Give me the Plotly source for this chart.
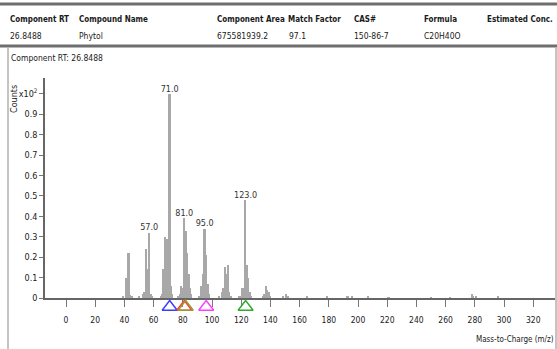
import plotly.graph_objects as go

# ---- data ----
mz = [39, 41, 42, 43, 44, 45, 50, 53, 54, 55, 56, 57, 58, 59, 65, 66, 67, 68, 69, 70,
      71, 72, 73, 77, 78, 79, 80, 81, 82, 83, 84, 85, 86, 91, 93, 94, 95, 96, 97, 98,
      105, 107, 108, 109, 110, 111, 112, 113, 119, 121, 122, 123, 124, 125, 126, 127,
      135, 136, 137, 138, 139, 140, 149, 151, 152, 165, 179, 193, 196, 207, 221, 250,
      263, 278, 279, 281, 296]
counts = [0.01, 0.10, 0.02, 0.22, 0.015, 0.01, 0.005, 0.02, 0.03, 0.24, 0.14, 0.32, 0.02, 0.005,
          0.01, 0.02, 0.14, 0.30, 0.29, 0.15, 1.00, 0.06, 0.02, 0.01, 0.02, 0.06, 0.05, 0.39,
          0.33, 0.22, 0.12, 0.05, 0.02, 0.01, 0.06, 0.12, 0.34, 0.21, 0.07, 0.02, 0.01, 0.03,
          0.05, 0.15, 0.12, 0.16, 0.03, 0.01, 0.01, 0.05, 0.05, 0.48, 0.16, 0.10, 0.03, 0.01,
          0.01, 0.02, 0.06, 0.04, 0.03, 0.01, 0.01, 0.02, 0.01, 0.01, 0.01, 0.007, 0.006,
          0.005, 0.004, 0.004, 0.004, 0.02, 0.01, 0.005, 0.005]

label_mz = [57, 71, 81, 95, 123]
label_text = ["57.0", "71.0", "81.0", "95.0", "123.0"]
label_counts = [counts[mz.index(m)] for m in label_mz]

marker_mz = [71, 81, 82, 96, 123]
marker_colors = ["#3b3bff", "#ff3b3b", "#9a9a30", "#ff3bff", "#2fa82f"]
marker_level = [0.5] * len(marker_mz)

x_ticks = list(range(0, 321, 20))
y_ticks = [0, 0.1, 0.2, 0.3, 0.4, 0.5, 0.6, 0.7, 0.8, 0.9, 1.0]
y_ticktext = ["0", "0.1", "0.2", "0.3", "0.4", "0.5", "0.6", "0.7", "0.8", "0.9", "x10<sup>2</sup>"]

header_cols = ["Component RT", "Compound Name", "Component Area", "Match Factor", "CAS#", "Formula", "Estimated Conc."]
header_vals = ["26.8488", "Phytol", "675581939.2", "97.1", "150-86-7", "C20H40O", ""]
header_x = [8, 77, 215, 286, 352, 422, 490]
val_x = [8, 77, 215, 287, 352, 422, 490]

FONT = "DejaVu Sans Condensed, Liberation Sans Narrow, sans-serif"
W, H = 557, 349
L, R, T, B = 45, 0, 78, 33
AXIS_Y = 298
PW, PH = W - L - R, H - T - B
Y_SPLIT = (H - B - AXIS_Y) / PH


def px(x):
    return (x - L) / PW


def py(y):
    return (H - B - y) / PH


fig = go.Figure()
fig.add_trace(go.Bar(x=mz, y=counts, width=1.2,
                     marker=dict(color="#a8a8a8", line=dict(width=0)),
                     hoverinfo="x+y", xaxis="x", yaxis="y"))
fig.add_trace(go.Scatter(x=label_mz, y=label_counts, mode="text", text=label_text,
                         textposition="top center",
                         textfont=dict(family=FONT, size=9, color="#333333"),
                         cliponaxis=False, xaxis="x", yaxis="y"))
fig.add_trace(go.Scatter(x=marker_mz, y=marker_level, mode="markers",
                         marker=dict(symbol="triangle-up-open", size=13,
                                     color=marker_colors, line=dict(width=1.4, color=marker_colors)),
                         cliponaxis=False, xaxis="x", yaxis="y2"))

ann = []
for i, (t, xp) in enumerate(zip(header_cols, header_x)):
    last = i == len(header_cols) - 1
    ann.append(dict(text="<b>" + t + "</b>", x=px(555 if last else xp), y=py(19),
                    xref="paper", yref="paper",
                    xanchor="right" if last else "left", yanchor="middle", showarrow=False,
                    font=dict(family=FONT, size=8, color="#1a1a1a")))
for t, xp in zip(header_vals, val_x):
    if t:
        ann.append(dict(text=t, x=px(xp), y=py(36), xref="paper", yref="paper",
                        xanchor="left", yanchor="middle", showarrow=False,
                        font=dict(family=FONT, size=8.5, color="#1a1a1a")))
ann.append(dict(text="Component RT: 26.8488", x=px(9), y=py(58), xref="paper", yref="paper",
                xanchor="left", yanchor="middle", showarrow=False,
                font=dict(family=FONT, size=8.5, color="#1a1a1a")))
ann.append(dict(text="Counts", x=px(14), y=py(99), xref="paper", yref="paper",
                xanchor="center", yanchor="middle", showarrow=False, textangle=-90,
                font=dict(family=FONT, size=9, color="#1a1a1a")))
ann.append(dict(text="Mass-to-Charge (m/z)", x=px(556), y=py(339), xref="paper", yref="paper",
                xanchor="right", yanchor="middle", showarrow=False,
                font=dict(family=FONT, size=8, color="#1a1a1a")))

shapes = [
    dict(type="line", xref="paper", yref="paper", x0=px(0), x1=px(W), y0=py(4), y1=py(4),
         line=dict(color="#6e6e6e", width=3)),
    dict(type="line", xref="paper", yref="paper", x0=px(0), x1=px(W), y0=py(46), y1=py(46),
         line=dict(color="#6e6e6e", width=3)),
    dict(type="line", xref="paper", yref="paper", x0=px(8), x1=px(8), y0=py(H), y1=py(48),
         line=dict(color="#c4c4c4", width=2)),
    dict(type="line", xref="paper", yref="paper", x0=px(556), x1=px(556), y0=py(H), y1=py(48),
         line=dict(color="#c4c4c4", width=2)),
]

fig.update_layout(
    width=W, height=H,
    margin=dict(l=L, r=R, t=T, b=B, autoexpand=False),
    paper_bgcolor="white", plot_bgcolor="rgba(0,0,0,0)",
    showlegend=False, bargap=0,
    annotations=ann, shapes=shapes,
    font=dict(family=FONT, size=9, color="#1a1a1a"),
    xaxis=dict(range=[-14.4, 336.3], tickvals=x_ticks, ticks="outside", ticklen=7,
               ticklabelstandoff=6,
               tickcolor="#777777", showline=True, linecolor="#666666", linewidth=2,
               showgrid=False, zeroline=False, tickfont=dict(family=FONT, size=8.5, color="#1a1a1a"),
               anchor="y", fixedrange=True),
    yaxis=dict(range=[0, 1.078], domain=[Y_SPLIT, 1], tickvals=y_ticks, ticktext=y_ticktext,
               ticks="outside", ticklen=4, anchor="x",
               tickcolor="#777777", showline=True, linecolor="#666666", linewidth=1.5,
               showgrid=False, zeroline=False, tickfont=dict(family=FONT, size=9, color="#1a1a1a"),
               fixedrange=True),
    yaxis2=dict(range=[0, 1], domain=[0, Y_SPLIT], visible=False, anchor="x", fixedrange=True),
)

fig.write_html("out.html")
